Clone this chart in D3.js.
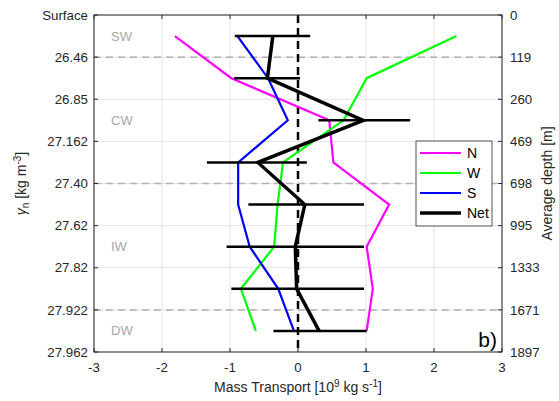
<!DOCTYPE html>
<html><head><meta charset="utf-8">
<script src="https://cdn.jsdelivr.net/npm/d3@7"></script>
<style>body{margin:0;background:#fff}svg{display:block;font-family:"Liberation Sans",Arial,sans-serif}</style>
</head><body><svg id="c" width="559" height="401"></svg>
<script>
const gammaTicks = ["Surface","26.46","26.85","27.162","27.40","27.62","27.82","27.922","27.962"];
const depthTicks = ["0","119","260","469","698","995","1333","1671","1897"];
const layerMid = [0.5,1.5,2.5,3.5,4.5,5.5,6.5,7.5];
const xTicks = [-3,-2,-1,0,1,2,3];
const seriesN = [-1.81,-0.98,0.46,0.52,1.34,1.01,1.10,1.01];
const seriesW = [2.33,1.01,0.67,-0.22,-0.30,-0.35,-0.84,-0.62];
const seriesS = [-0.89,-0.44,-0.15,-0.88,-0.88,-0.71,-0.29,-0.06];
const seriesNet = [-0.37,-0.45,0.96,-0.59,0.10,-0.04,-0.02,0.31];
const netLo = [-0.93,-0.94,0.30,-1.34,-0.73,-1.05,-0.98,-0.36];
const netHi = [0.18,0.03,1.65,0.13,0.97,0.97,0.97,1.01];
const boundaryLevels = [1,4,7];
const waterMasses = [{name:"SW",lvl:0.5},{name:"CW",lvl:2.5},{name:"IW",lvl:5.5},{name:"DW",lvl:7.5}];

const svg = d3.select("#c");
const L=94,R=502,T=15,B=352;
const x = d3.scaleLinear().domain([-3,3]).range([L,R]);
const y = d3.scaleLinear().domain([0,8]).range([T,B]);
const axisCol="#262626";
const fs=13.3;
const g = svg.append("g");

// grid
g.selectAll(".gx").data(xTicks).enter().append("line")
  .attr("x1",d=>x(d)).attr("x2",d=>x(d)).attr("y1",T).attr("y2",B)
  .attr("stroke","#e3e3e3").attr("stroke-width",1);
g.selectAll(".gy").data(d3.range(gammaTicks.length)).enter().append("line")
  .attr("y1",d=>y(d)).attr("y2",d=>y(d)).attr("x1",L).attr("x2",R)
  .attr("stroke","#e3e3e3").attr("stroke-width",1);
// boundaries
g.selectAll(".bd").data(boundaryLevels).enter().append("line")
  .attr("y1",d=>y(d)).attr("y2",d=>y(d)).attr("x1",L).attr("x2",R)
  .attr("stroke","#b0b0b0").attr("stroke-width",1.5).attr("stroke-dasharray","7,5");
// water mass labels
g.selectAll(".wm").data(waterMasses).enter().append("text")
  .attr("x",111).attr("y",d=>y(d.lvl)+4.5).text(d=>d.name)
  .attr("fill","#a8a8a8").attr("font-size",13);
// zero line
g.append("line").attr("x1",x(0)).attr("x2",x(0)).attr("y1",T).attr("y2",B)
  .attr("stroke","#000").attr("stroke-width",2.5).attr("stroke-dasharray","8,5");

const line = d3.line().x(d=>x(d[0])).y(d=>y(d[1]));
const mk = arr => arr.map((v,i)=>[v,layerMid[i]]);
[[seriesN,"#ff00ff"],[seriesW,"#00ff00"],[seriesS,"#0000ff"]].forEach(([s,c])=>{
  g.append("path").attr("d",line(mk(s))).attr("fill","none").attr("stroke",c).attr("stroke-width",2.2);
});
// error bars
g.selectAll(".eb").data(layerMid).enter().append("line")
  .attr("x1",(d,i)=>x(netLo[i])).attr("x2",(d,i)=>x(netHi[i]))
  .attr("y1",d=>y(d)).attr("y2",d=>y(d)).attr("stroke","#000").attr("stroke-width",2.5);
g.append("path").attr("d",line(mk(seriesNet))).attr("fill","none").attr("stroke","#000").attr("stroke-width",3.5).attr("stroke-linejoin","miter");

// frame
g.append("rect").attr("x",L).attr("y",T).attr("width",R-L).attr("height",B-T)
  .attr("fill","none").attr("stroke",axisCol).attr("stroke-width",1);
// ticks
xTicks.forEach(t=>{
  g.append("line").attr("x1",x(t)).attr("x2",x(t)).attr("y1",B).attr("y2",B-4).attr("stroke",axisCol);
  g.append("line").attr("x1",x(t)).attr("x2",x(t)).attr("y1",T).attr("y2",T+4).attr("stroke",axisCol);
});
d3.range(gammaTicks.length).forEach(i=>{
  g.append("line").attr("x1",L).attr("x2",L+4).attr("y1",y(i)).attr("y2",y(i)).attr("stroke",axisCol);
  g.append("line").attr("x1",R).attr("x2",R-4).attr("y1",y(i)).attr("y2",y(i)).attr("stroke",axisCol);
});
// tick labels
g.selectAll(".xl").data(xTicks).enter().append("text")
  .attr("x",d=>x(d)).attr("y",B+20).attr("text-anchor","middle").attr("font-size",fs).attr("fill",axisCol).text(d=>d);
g.selectAll(".yl").data(gammaTicks).enter().append("text")
  .attr("x",L-6).attr("y",(d,i)=>y(i)+4.7).attr("text-anchor","end").attr("font-size",fs).attr("fill",axisCol).text(d=>d);
g.selectAll(".rl").data(depthTicks).enter().append("text")
  .attr("x",R+8).attr("y",(d,i)=>y(i)+4.7).attr("text-anchor","start").attr("font-size",fs).attr("fill",axisCol).text(d=>d);

// x title
const xt = g.append("text").attr("x",x(0)).attr("y",392).attr("text-anchor","middle").attr("font-size",14).attr("fill",axisCol);
xt.append("tspan").text("Mass Transport [10");
xt.append("tspan").attr("dy",-5).attr("font-size",10).text("9");
xt.append("tspan").attr("dy",5).text(" kg s");
xt.append("tspan").attr("dy",-5).attr("font-size",10).text("-1");
xt.append("tspan").attr("dy",5).text("]");
// left title
const lt = g.append("text").attr("transform",`translate(26,${(T+B)/2}) rotate(-90)`).attr("text-anchor","middle").attr("font-size",14).attr("fill",axisCol);
lt.append("tspan").attr("font-style","italic").text("γ");
lt.append("tspan").attr("dy",3).attr("font-size",10).text("n");
lt.append("tspan").attr("dy",-3).text(" [kg m");
lt.append("tspan").attr("dy",-5).attr("font-size",10).text("-3");
lt.append("tspan").attr("dy",5).text("]");
// right title
g.append("text").attr("transform",`translate(552,${(T+B)/2}) rotate(-90)`).attr("text-anchor","middle").attr("font-size",14).attr("fill",axisCol).text("Average depth [m]");

// legend
const legItems = [["N","#ff00ff",2.2],["W","#00ff00",2.2],["S","#0000ff",2.2],["Net","#000",3.5]];
g.append("rect").attr("x",416).attr("y",141).attr("width",76).attr("height",85).attr("fill","#fff").attr("stroke",axisCol).attr("stroke-width",0.8);
legItems.forEach((d,i)=>{
  const yy=153+i*20;
  g.append("line").attr("x1",420).attr("x2",461).attr("y1",yy).attr("y2",yy).attr("stroke",d[1]).attr("stroke-width",d[2]);
  g.append("text").attr("x",467).attr("y",yy+5).attr("font-size",14).attr("fill","#000").text(d[0]);
});
// panel label
g.append("text").attr("x",497).attr("y",347).attr("text-anchor","end").attr("font-size",21).attr("fill","#000").text("b)");
</script></body></html>
